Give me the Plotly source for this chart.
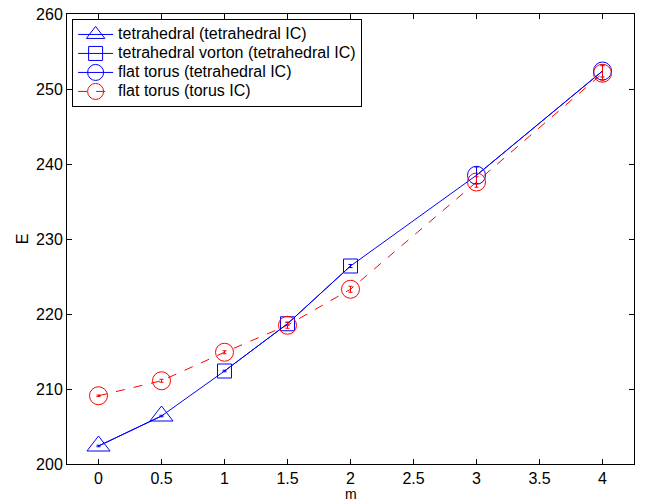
import plotly.graph_objects as go

# data
m_tetra = [0, 0.5]
E_tetra = [202.4, 206.4]
err_tetra = [0.1, 0.1]

m_vorton = [1, 1.5, 2]
E_vorton = [212.4, 218.7, 226.4]
err_vorton = [0.1, 0.2, 0.2]

m_torus_t = [3, 4]
E_torus_t = [238.5, 252.4]
err_torus_t = [1.1, 0.8]

m_torus = [0, 0.5, 1, 1.5, 2, 3, 4]
E_torus = [209.1, 211.1, 214.9, 218.5, 223.3, 237.6, 252.1]
err_torus = [0.1, 0.2, 0.2, 0.4, 0.4, 0.7, 1.0]

x_ticks = [0, 0.5, 1, 1.5, 2, 2.5, 3, 3.5, 4]
y_ticks = [200, 210, 220, 230, 240, 250, 260]

x_label = "m"
y_label = "E"

BLUE = "#0000ff"
RED = "#ff0000"

fig = go.Figure()

# continuous blue line through all tetrahedral-IC points
fig.add_trace(go.Scatter(
    x=m_tetra + m_vorton + m_torus_t, y=E_tetra + E_vorton + E_torus_t,
    mode="lines", line=dict(color=BLUE, width=1), showlegend=False, hoverinfo="skip"))

def add(x, y, err, name, symbol, size, color, dash):
    fig.add_trace(go.Scatter(
        x=x, y=y, name='<span style="font-size:16px">%s</span>' % name,
        mode="lines+markers",
        line=dict(color=color, width=1, dash=dash),
        marker=dict(symbol=symbol, size=size, color=color,
                    line=dict(color=color, width=1)),
        error_y=dict(type="data", array=err, color=color, thickness=1, width=2)))

add(m_tetra, E_tetra, err_tetra, "tetrahedral (tetrahedral IC)", "triangle-up-open", 20, BLUE, "solid")
add(m_vorton, E_vorton, err_vorton, "tetrahedral vorton (tetrahedral IC)", "square-open", 14, BLUE, "solid")
add(m_torus_t, E_torus_t, err_torus_t, "flat torus (tetrahedral IC)", "circle-open", 18, BLUE, "solid")
add(m_torus, E_torus, err_torus, "flat torus (torus IC)", "circle-open", 18, RED, "dash")

axis_common = dict(showline=True, linecolor="black", linewidth=1, mirror="ticks",
                   ticks="inside", ticklen=5, tickcolor="black", showgrid=False,
                   zeroline=False, automargin=False,
                   tickfont=dict(size=16, color="black"))

fig.update_layout(
    width=649, height=502,
    margin=dict(l=67, r=15, t=14, b=38),
    paper_bgcolor="white", plot_bgcolor="white",
    font=dict(family="Liberation Sans, Arial, sans-serif", size=16, color="black"),
    xaxis=dict(range=[-0.25, 4.25], tickvals=x_ticks,
               ticktext=[("%g" % v) for v in x_ticks], **axis_common),
    yaxis=dict(range=[200, 260], tickvals=y_ticks, **axis_common),
    legend=dict(x=0.009, y=0.989, xanchor="left", yanchor="top",
                bgcolor="white", bordercolor="black", borderwidth=1,
                font=dict(size=12), tracegroupgap=0, itemwidth=35),
    showlegend=True,
    annotations=[
        dict(text=x_label, xref="paper", yref="paper", x=0.5, y=-0.0662,
             xanchor="center", yanchor="middle", showarrow=False,
             borderpad=0, font=dict(size=14)),
        dict(text=y_label, xref="paper", yref="paper", x=-0.079, y=0.5,
             xanchor="center", yanchor="middle", textangle=-90, showarrow=False,
             font=dict(size=16)),
    ],
)

fig.write_html("out.html", config={"displayModeBar": False},
               post_script="document.body.style.margin='0';document.body.style.overflow='hidden';")
